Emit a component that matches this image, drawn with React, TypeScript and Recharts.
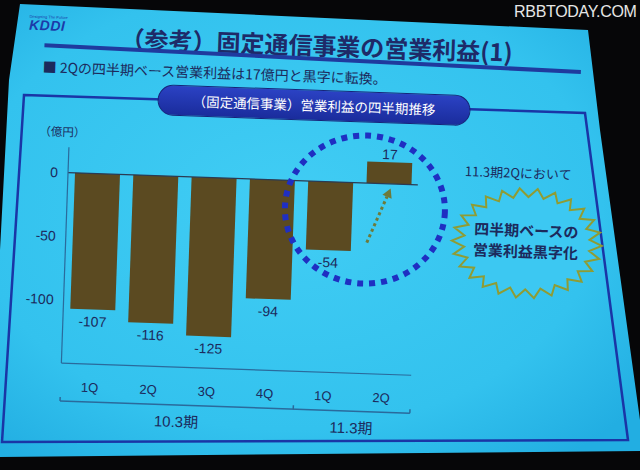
import React from "react";
import { BarChart, Bar, XAxis, YAxis, ReferenceLine, LabelList } from "recharts";

// quarterly operating profit of the fixed-line business (100 million yen)
const quarters = ["1Q", "2Q", "3Q", "4Q", "1Q", "2Q"];
const periods = ["10.3期", "10.3期", "10.3期", "10.3期", "11.3期", "11.3期"];
const profit = [-107, -116, -125, -94, -54, 17];
const yTicks = [0, -50, -100];

const data = quarters.map((q, i) => ({ q, period: periods[i], profit: profit[i] }));

const NAVY = "#1c2a5c";
const AXIS = "#2a6a9c";
const BAR = "#5b4a21";
const JP = "'Noto Sans CJK JP', 'Noto Sans', sans-serif";
const LAT = "'Liberation Sans', Arial, sans-serif";

const CHART_W = 440;
const CHART_H = 450;
const MARGIN = { top: 156, right: 24, bottom: 6, left: 20 };
const Y_W = 46;
const STEP = (CHART_W - MARGIN.left - MARGIN.right - Y_W) / quarters.length;

function QuarterTick(props: any) {
    const { x, y, payload } = props;
    return (
        <text x={x} y={y + 28} textAnchor="middle" fontSize={13} fill={NAVY} fontFamily={LAT}>
            {payload.value}
        </text>
    );
}

function PeriodTick(props: any) {
    const { x, y, payload } = props;
    const i = props.index ?? payload.index ?? 0;
    const isStart = i === 0 || periods[i] !== periods[i - 1];
    const isLast = i === periods.length - 1;
    let count = 1;
    while (i + count < periods.length && periods[i + count] === periods[i]) count++;
    return (
        <g>
            {isStart && (
                <line x1={x - STEP / 2} x2={x - STEP / 2} y1={y} y2={y - 4} stroke={AXIS} strokeWidth={1.5} />
            )}
            {isLast && (
                <line x1={x + STEP / 2} x2={x + STEP / 2} y1={y} y2={y - 4} stroke={AXIS} strokeWidth={1.5} />
            )}
            {isStart && (
                <text
                    x={x + ((count - 1) / 2) * STEP}
                    y={y + 22}
                    textAnchor="middle"
                    fontSize={15}
                    fill={NAVY}
                    fontFamily={`${LAT}, ${JP}`}
                >
                    {payload.value}
                </text>
            )}
        </g>
    );
}

function ValueLabel(props: any) {
    const vb = props.viewBox || props;
    const { x, y, width, height } = vb;
    const value = props.value;
    const top = Math.min(y, y + height);
    const bottom = Math.max(y, y + height);
    const cx = x + width / 2;
    return (
        <text
            x={cx}
            y={value < 0 ? bottom + 17 : top - 3}
            textAnchor="middle"
            fontSize={14}
            fill={NAVY}
            fontFamily={LAT}
        >
            {value}
        </text>
    );
}

const burst = Array.from({ length: 52 }, (_, k) => {
    const a = (k * Math.PI) / 26;
    const r = k % 2 === 0 ? 1 : 0.84;
    return `${527 + 75 * r * Math.cos(a)},${236 + 55 * r * Math.sin(a)}`;
}).join(" ");

const abs = (left: number, top: number, extra: React.CSSProperties = {}): React.CSSProperties => ({
    position: "absolute",
    left,
    top,
    whiteSpace: "nowrap",
    ...extra,
});

export default function App() {
    return (
        <div
            style={{
                position: "fixed",
                left: 0,
                top: 0,
                width: 640,
                height: 470,
                overflow: "hidden",
                background: "#060608",
            }}
        >
            {/* projected slide and chart frame */}
            <svg width={640} height={470} style={{ position: "absolute", left: 0, top: 0 }}>
                <defs>
                    <radialGradient id="slide" cx="45%" cy="45%" r="70%">
                        <stop offset="0%" stopColor="#41cdf4" />
                        <stop offset="70%" stopColor="#33c2ee" />
                        <stop offset="100%" stopColor="#22aee2" />
                    </radialGradient>
                </defs>
                <polygon
                    points="20,4 588,30 600,130 640,420 640,451 0,457 0,250 9,80"
                    fill="url(#slide)"
                />
                <polygon points="24,95 585,113 628,440 2,442" fill="none" stroke="#1a35a6" strokeWidth={2.5} />
            </svg>

            <div
                style={{
                    position: "absolute",
                    left: 0,
                    top: 0,
                    width: 640,
                    height: 470,
                    transform: "rotate(2deg)",
                    transformOrigin: "320px 235px",
                    fontFamily: JP,
                }}
            >
                {/* logo */}
                <div style={abs(22, 24, { fontSize: 4, color: "#1c3aa8", fontFamily: LAT })}>Designing The Future</div>
                <div
                    style={abs(22, 27, {
                        fontSize: 14,
                        lineHeight: "16px",
                        fontWeight: 900,
                        fontStyle: "italic",
                        color: "#1c3aa8",
                        fontFamily: LAT,
                        letterSpacing: 0.5,
                    })}
                >
                    KDDI
                </div>

                <div
                    style={abs(0, 29, {
                        width: 620,
                        textAlign: "center",
                        fontSize: 24,
                        lineHeight: "32px",
                        fontWeight: 700,
                        color: "#1e2a68",
                    })}
                >
                    （参考）固定通信事業の営業利益(1)
                </div>

                <svg width={640} height={470} style={{ position: "absolute", left: 0, top: 0 }}>
                    <line x1={38} y1={55} x2={575} y2={63} stroke="#1f3a9e" strokeWidth={4} />
                </svg>

                <div style={abs(37, 66, { fontSize: 14, lineHeight: "20px", color: NAVY })}>
                    ■ 2Qの四半期ベース営業利益は17億円と黒字に転換。
                </div>

                <div
                    style={abs(153, 90, {
                        width: 313,
                        height: 31,
                        borderRadius: 16,
                        background: "linear-gradient(#2b42c4, #1a2c9c)",
                        border: "1px solid #16237a",
                        boxSizing: "border-box",
                        color: "#ffffff",
                        textAlign: "center",
                        fontSize: 13.5,
                        lineHeight: "29px",
                    })}
                >
                    （固定通信事業）営業利益の四半期推移
                </div>

                <div style={abs(29, 131, { width: 60, textAlign: "center", fontSize: 11.5, lineHeight: "18px", color: NAVY })}>
                    （億円）
                </div>

                <div style={abs(0, 0)}>
                    <BarChart width={CHART_W} height={CHART_H} data={data} margin={MARGIN}>
                        <YAxis
                            type="number"
                            domain={[-150, 20]}
                            ticks={yTicks}
                            width={Y_W}
                            allowDataOverflow
                            axisLine={{ stroke: AXIS, strokeWidth: 1.2 }}
                            tickLine={false}
                            tickMargin={4}
                            tick={{ fill: NAVY, fontSize: 14, fontFamily: LAT }}
                        />
                        <XAxis
                            dataKey="q"
                            height={38}
                            interval={0}
                            tickSize={0}
                            tickMargin={0}
                            tickLine={false}
                            axisLine={{ stroke: AXIS, strokeWidth: 1.2 }}
                            tick={QuarterTick}
                        />
                        <XAxis
                            xAxisId="p"
                            dataKey="period"
                            height={34}
                            interval={0}
                            tickSize={0}
                            tickMargin={0}
                            tickLine={false}
                            axisLine={{ stroke: AXIS, strokeWidth: 1.5 }}
                            tick={PeriodTick}
                        />
                        <ReferenceLine y={0} stroke="#2b3a52" strokeWidth={1.3} />
                        <Bar dataKey="profit" fill={BAR} barSize={45} isAnimationActive={false}>
                            <LabelList dataKey="profit" content={ValueLabel} />
                        </Bar>
                    </BarChart>
                </div>

                {/* annotations */}
                <svg width={640} height={470} style={{ position: "absolute", left: 0, top: 0, pointerEvents: "none" }}>
                    <ellipse
                        cx={364}
                        cy={208}
                        rx={80}
                        ry={74}
                        fill="none"
                        stroke="#1f2fc2"
                        strokeWidth={6}
                        strokeDasharray="6 6"
                    />
                    <line
                        x1={367}
                        y1={241}
                        x2={385.6}
                        y2={194.4}
                        stroke="#6d7a3a"
                        strokeWidth={3}
                        strokeDasharray="3 3"
                    />
                    <polygon points="389,186 390.3,196.2 381,192.5" fill="#6d7a3a" />
                    <polygon points={burst} fill="#3cc8f2" stroke="#8f9c34" strokeWidth={2} />
                </svg>

                <div style={abs(456, 156, { width: 120, textAlign: "center", fontSize: 13, lineHeight: "20px", color: NAVY })}>
                    11.3期2Qにおいて
                </div>
                <div
                    style={abs(466, 212, {
                        width: 120,
                        textAlign: "center",
                        fontSize: 15,
                        lineHeight: "21px",
                        fontWeight: 700,
                        color: NAVY,
                    })}
                >
                    四半期ベースの
                    <br />
                    営業利益黒字化
                </div>
            </div>

            <div
                style={abs(514, 3, {
                    fontSize: 16,
                    lineHeight: "18px",
                    color: "#e6e6e6",
                    fontFamily: LAT,
                    letterSpacing: -0.3,
                })}
            >
                RBBTODAY.COM
            </div>
        </div>
    );
}
